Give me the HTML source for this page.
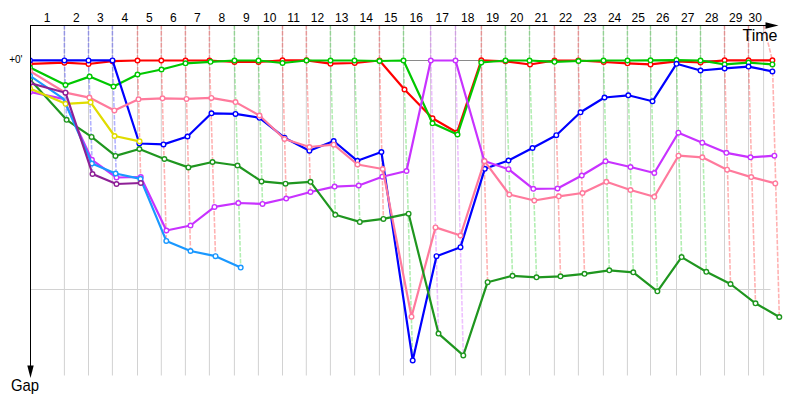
<!DOCTYPE html>
<html><head><meta charset="utf-8"><title>Gap chart</title>
<style>
html,body{margin:0;padding:0;background:#fff;}
body{width:800px;height:400px;overflow:hidden;position:relative;font-family:"Liberation Sans",sans-serif;}
svg{position:absolute;left:0;top:0;}
text{font-family:"Liberation Sans",sans-serif;fill:#000;}
</style></head><body>
<svg width="800" height="400" viewBox="0 0 800 400">
<path d="M64.4 25V375.5M88.5 25V375.5M112.4 25V375.5M137.5 25V375.5M161.3 25V375.5M185.4 25V375.5M209.4 25V375.5M234.4 25V375.5M258.4 25V375.5M282.5 25V375.5M306.3 25V375.5M330.4 25V375.5M354.6 25V375.5M379.4 25V375.5M403.5 25V375.5M430.6 25V375.5M455.5 25V375.5M481.4 25V375.5M505.4 25V375.5M529.5 25V375.5M554.4 25V375.5M578.4 25V375.5M603.4 25V375.5M627.4 25V375.5M650.5 25V375.5M676.5 25V375.5M700.5 25V375.5M724.5 25V375.5M748.5 25V375.5M763.6 25V375.5" stroke="#d2d2d2" stroke-width="1" fill="none"/>
<path d="M30 289.5H770.5" stroke="#d2d2d2" stroke-width="1" fill="none"/>
<path d="M30 60.5H764" stroke="#8a8a8a" stroke-width="1" fill="none"/>
<path d="M64.4 25L64.4 60.4L66.6 119.8" stroke="#0000ff" stroke-opacity="0.3" stroke-width="1.6" stroke-dasharray="4.5 1.5" fill="none"/>
<path d="M88.5 25L88.5 60.4L92.5 174" stroke="#0000ff" stroke-opacity="0.3" stroke-width="1.6" stroke-dasharray="4.5 1.5" fill="none"/>
<path d="M112.4 25L112.5 60.4L116.5 184" stroke="#0000ff" stroke-opacity="0.3" stroke-width="1.6" stroke-dasharray="4.5 1.5" fill="none"/>
<path d="M137.5 25L137.5 60.5L140.8 183" stroke="#ff0000" stroke-opacity="0.3" stroke-width="1.6" stroke-dasharray="4.5 1.5" fill="none"/>
<path d="M161.3 25L161.3 60.5L166.3 240.9" stroke="#ff0000" stroke-opacity="0.3" stroke-width="1.6" stroke-dasharray="4.5 1.5" fill="none"/>
<path d="M185.4 25L185.5 60.5L190.5 251" stroke="#ff0000" stroke-opacity="0.3" stroke-width="1.6" stroke-dasharray="4.5 1.5" fill="none"/>
<path d="M209.4 25L209.5 60.5L215.5 256.2" stroke="#ff0000" stroke-opacity="0.3" stroke-width="1.6" stroke-dasharray="4.5 1.5" fill="none"/>
<path d="M234.4 25L234.5 60.5L240.7 267.6" stroke="#00c800" stroke-opacity="0.3" stroke-width="1.6" stroke-dasharray="4.5 1.5" fill="none"/>
<path d="M258.4 25L258.5 60.5L262.5 203.9" stroke="#00c800" stroke-opacity="0.3" stroke-width="1.6" stroke-dasharray="4.5 1.5" fill="none"/>
<path d="M282.5 25L282.5 60.3L286.2 198.5" stroke="#ff0000" stroke-opacity="0.3" stroke-width="1.6" stroke-dasharray="4.5 1.5" fill="none"/>
<path d="M306.3 25L306.5 60.3L310.5 192" stroke="#ff0000" stroke-opacity="0.3" stroke-width="1.6" stroke-dasharray="4.5 1.5" fill="none"/>
<path d="M330.4 25L330.5 60.5L335.3 214.8" stroke="#00c800" stroke-opacity="0.3" stroke-width="1.6" stroke-dasharray="4.5 1.5" fill="none"/>
<path d="M354.6 25L354.5 60.5L359.8 221.9" stroke="#00c800" stroke-opacity="0.3" stroke-width="1.6" stroke-dasharray="4.5 1.5" fill="none"/>
<path d="M379.4 25L379.5 60.5L383.4 218.9" stroke="#ff0000" stroke-opacity="0.3" stroke-width="1.6" stroke-dasharray="4.5 1.5" fill="none"/>
<path d="M403.5 25L403.5 60.5L412.7 360.4" stroke="#00c800" stroke-opacity="0.3" stroke-width="1.6" stroke-dasharray="4.5 1.5" fill="none"/>
<path d="M430.6 25L430.8 60.5L438.5 333.6" stroke="#c832ff" stroke-opacity="0.3" stroke-width="1.6" stroke-dasharray="4.5 1.5" fill="none"/>
<path d="M455.5 25L455.5 60.5L463.3 355.4" stroke="#c832ff" stroke-opacity="0.3" stroke-width="1.6" stroke-dasharray="4.5 1.5" fill="none"/>
<path d="M481.4 25L481.3 60.3L487.6 282.2" stroke="#ff0000" stroke-opacity="0.3" stroke-width="1.6" stroke-dasharray="4.5 1.5" fill="none"/>
<path d="M505.4 25L505.5 60.5L512.5 275.8" stroke="#00c800" stroke-opacity="0.3" stroke-width="1.6" stroke-dasharray="4.5 1.5" fill="none"/>
<path d="M529.5 25L529.5 60.5L536.5 277.3" stroke="#00c800" stroke-opacity="0.3" stroke-width="1.6" stroke-dasharray="4.5 1.5" fill="none"/>
<path d="M554.4 25L554.5 60.5L560.5 276.3" stroke="#ff0000" stroke-opacity="0.3" stroke-width="1.6" stroke-dasharray="4.5 1.5" fill="none"/>
<path d="M578.4 25L578.3 60.5L584.5 273.8" stroke="#ff0000" stroke-opacity="0.3" stroke-width="1.6" stroke-dasharray="4.5 1.5" fill="none"/>
<path d="M603.4 25L603.5 60.5L609.3 270.3" stroke="#00c800" stroke-opacity="0.3" stroke-width="1.6" stroke-dasharray="4.5 1.5" fill="none"/>
<path d="M627.4 25L627.5 60.5L633.3 272.3" stroke="#00c800" stroke-opacity="0.3" stroke-width="1.6" stroke-dasharray="4.5 1.5" fill="none"/>
<path d="M650.5 25L650.5 60.3L657.4 291.3" stroke="#00c800" stroke-opacity="0.3" stroke-width="1.6" stroke-dasharray="4.5 1.5" fill="none"/>
<path d="M676.5 25L676.5 60.1L681.6 257.1" stroke="#00c800" stroke-opacity="0.3" stroke-width="1.6" stroke-dasharray="4.5 1.5" fill="none"/>
<path d="M700.5 25L700.5 60.5L706.3 271.8" stroke="#00c800" stroke-opacity="0.3" stroke-width="1.6" stroke-dasharray="4.5 1.5" fill="none"/>
<path d="M724.5 25L724.6 60.3L730.5 284" stroke="#ff0000" stroke-opacity="0.3" stroke-width="1.6" stroke-dasharray="4.5 1.5" fill="none"/>
<path d="M748.5 25L748.5 60.3L755.5 303.3" stroke="#ff0000" stroke-opacity="0.3" stroke-width="1.6" stroke-dasharray="4.5 1.5" fill="none"/>
<path d="M763.6 25L772.4 60.3L779.3 317" stroke="#ff0000" stroke-opacity="0.3" stroke-width="1.6" stroke-dasharray="4.5 1.5" fill="none"/>
<path d="M30.5 25V366M30 25.5H766" stroke="#000" stroke-width="1" fill="none"/>
<path d="M27.3 365.5L33.7 365.5L30.5 378Z" fill="#000"/>
<path d="M765.5 22.3L765.5 28.7L778.5 25.5Z" fill="#000"/>
<defs><clipPath id="cp"><rect x="31" y="0" width="769" height="400"/></clipPath></defs>
<g clip-path="url(#cp)">
<path d="M30 64L64.4 62.7L88.5 64L112.5 61.2L137.5 60.5L161.3 60.5L185.5 60.5L209.5 60.5L234.5 62L258.5 62L282.5 60.3L306.5 60.3L330.5 63.7L354.7 63L379.5 60.5L404.5 89.5L432.5 118.3L457 132.5L481.3 60.3L505.5 61.3L530 64.5L554.5 60.5L578.3 60.5L603.7 62L627.5 63.3L650.5 64.4L676.5 61.3L700.5 62.5L724.6 60.3L748.5 60.3L772.4 60.3" stroke="#ff0000" stroke-width="2.2" fill="none" stroke-linejoin="round" stroke-linecap="round"/>
<g fill="#fff" stroke="#ff0000" stroke-width="1.4"><circle cx="30" cy="64" r="2.3"/><circle cx="64.4" cy="62.7" r="2.3"/><circle cx="88.5" cy="64" r="2.3"/><circle cx="112.5" cy="61.2" r="2.3"/><circle cx="137.5" cy="60.5" r="2.3"/><circle cx="161.3" cy="60.5" r="2.3"/><circle cx="185.5" cy="60.5" r="2.3"/><circle cx="209.5" cy="60.5" r="2.3"/><circle cx="234.5" cy="62" r="2.3"/><circle cx="258.5" cy="62" r="2.3"/><circle cx="282.5" cy="60.3" r="2.3"/><circle cx="306.5" cy="60.3" r="2.3"/><circle cx="330.5" cy="63.7" r="2.3"/><circle cx="354.7" cy="63" r="2.3"/><circle cx="379.5" cy="60.5" r="2.3"/><circle cx="404.5" cy="89.5" r="2.3"/><circle cx="432.5" cy="118.3" r="2.3"/><circle cx="457" cy="132.5" r="2.3"/><circle cx="481.3" cy="60.3" r="2.3"/><circle cx="505.5" cy="61.3" r="2.3"/><circle cx="530" cy="64.5" r="2.3"/><circle cx="554.5" cy="60.5" r="2.3"/><circle cx="578.3" cy="60.5" r="2.3"/><circle cx="603.7" cy="62" r="2.3"/><circle cx="627.5" cy="63.3" r="2.3"/><circle cx="650.5" cy="64.4" r="2.3"/><circle cx="676.5" cy="61.3" r="2.3"/><circle cx="700.5" cy="62.5" r="2.3"/><circle cx="724.6" cy="60.3" r="2.3"/><circle cx="748.5" cy="60.3" r="2.3"/><circle cx="772.4" cy="60.3" r="2.3"/></g>
<path d="M30 67.5L65.5 85L89.6 76.6L113.5 86.5L137.5 74.5L161.5 69.5L185.5 63.3L210.5 61.8L234.5 60.5L258.5 60.5L282.5 63L306.5 60.5L330.5 60.5L354.5 60.5L379.5 61L403.5 60.5L432.5 123.3L457.5 134.5L481.3 62.5L505.5 60.5L529.5 60.5L554.5 61.8L578.5 61L603.5 60.5L627.5 60.5L650.5 60.3L676.5 60.1L700.5 60.5L724.6 64.4L748.5 62.6L772.4 64.4" stroke="#00c800" stroke-width="2.2" fill="none" stroke-linejoin="round" stroke-linecap="round"/>
<g fill="#fff" stroke="#00c800" stroke-width="1.4"><circle cx="30" cy="67.5" r="2.3"/><circle cx="65.5" cy="85" r="2.3"/><circle cx="89.6" cy="76.6" r="2.3"/><circle cx="113.5" cy="86.5" r="2.3"/><circle cx="137.5" cy="74.5" r="2.3"/><circle cx="161.5" cy="69.5" r="2.3"/><circle cx="185.5" cy="63.3" r="2.3"/><circle cx="210.5" cy="61.8" r="2.3"/><circle cx="234.5" cy="60.5" r="2.3"/><circle cx="258.5" cy="60.5" r="2.3"/><circle cx="282.5" cy="63" r="2.3"/><circle cx="306.5" cy="60.5" r="2.3"/><circle cx="330.5" cy="60.5" r="2.3"/><circle cx="354.5" cy="60.5" r="2.3"/><circle cx="379.5" cy="61" r="2.3"/><circle cx="403.5" cy="60.5" r="2.3"/><circle cx="432.5" cy="123.3" r="2.3"/><circle cx="457.5" cy="134.5" r="2.3"/><circle cx="481.3" cy="62.5" r="2.3"/><circle cx="505.5" cy="60.5" r="2.3"/><circle cx="529.5" cy="60.5" r="2.3"/><circle cx="554.5" cy="61.8" r="2.3"/><circle cx="578.5" cy="61" r="2.3"/><circle cx="603.5" cy="60.5" r="2.3"/><circle cx="627.5" cy="60.5" r="2.3"/><circle cx="650.5" cy="60.3" r="2.3"/><circle cx="676.5" cy="60.1" r="2.3"/><circle cx="700.5" cy="60.5" r="2.3"/><circle cx="724.6" cy="64.4" r="2.3"/><circle cx="748.5" cy="62.6" r="2.3"/><circle cx="772.4" cy="64.4" r="2.3"/></g>
<path d="M30 60.4L64.4 60.4L88.5 60.4L112.5 60.4L139.4 143.5L163.5 144.4L187.5 136.5L211.5 113.3L235.5 113.9L259.5 117.8L284.5 137.7L309.4 150.7L333.7 141L357.4 160.8L381.4 152L412.7 360.4L436.5 256.2L460.5 247.2L484.8 168.8L508.5 160.5L532.5 148L556.3 135.2L580.5 112.3L604.5 97.5L628.3 95.3L652.5 101.3L676.5 63.8L700.5 70.5L724.6 68.4L748.5 66.6L772.4 71.4" stroke="#0000ff" stroke-width="2.2" fill="none" stroke-linejoin="round" stroke-linecap="round"/>
<g fill="#fff" stroke="#0000ff" stroke-width="1.4"><circle cx="30" cy="60.4" r="2.3"/><circle cx="64.4" cy="60.4" r="2.3"/><circle cx="88.5" cy="60.4" r="2.3"/><circle cx="112.5" cy="60.4" r="2.3"/><circle cx="139.4" cy="143.5" r="2.3"/><circle cx="163.5" cy="144.4" r="2.3"/><circle cx="187.5" cy="136.5" r="2.3"/><circle cx="211.5" cy="113.3" r="2.3"/><circle cx="235.5" cy="113.9" r="2.3"/><circle cx="259.5" cy="117.8" r="2.3"/><circle cx="284.5" cy="137.7" r="2.3"/><circle cx="309.4" cy="150.7" r="2.3"/><circle cx="333.7" cy="141" r="2.3"/><circle cx="357.4" cy="160.8" r="2.3"/><circle cx="381.4" cy="152" r="2.3"/><circle cx="412.7" cy="360.4" r="2.3"/><circle cx="436.5" cy="256.2" r="2.3"/><circle cx="460.5" cy="247.2" r="2.3"/><circle cx="484.8" cy="168.8" r="2.3"/><circle cx="508.5" cy="160.5" r="2.3"/><circle cx="532.5" cy="148" r="2.3"/><circle cx="556.3" cy="135.2" r="2.3"/><circle cx="580.5" cy="112.3" r="2.3"/><circle cx="604.5" cy="97.5" r="2.3"/><circle cx="628.3" cy="95.3" r="2.3"/><circle cx="652.5" cy="101.3" r="2.3"/><circle cx="676.5" cy="63.8" r="2.3"/><circle cx="700.5" cy="70.5" r="2.3"/><circle cx="724.6" cy="68.4" r="2.3"/><circle cx="748.5" cy="66.6" r="2.3"/><circle cx="772.4" cy="71.4" r="2.3"/></g>
<path d="M30 92L63.3 98.8L91.9 159.8L116.5 177.5L140.8 177L166.4 230.5L190.5 225.5L214.5 206.9L238.3 203L262.5 203.9L286.2 198.5L310.5 192L334.6 186.6L358.7 185.5L382.3 176.7L406.5 171L430.8 60.5L455.5 60.5L484.3 161L508.5 169.2L533.3 188.8L557.5 188.5L581.8 175.5L605.5 161.3L630.5 167L654.3 173L678.4 132.7L702.3 142.7L726.4 152.8L750.5 157.3L774.4 155.7" stroke="#c832ff" stroke-width="2.2" fill="none" stroke-linejoin="round" stroke-linecap="round"/>
<g fill="#fff" stroke="#c832ff" stroke-width="1.4"><circle cx="30" cy="92" r="2.3"/><circle cx="91.9" cy="159.8" r="2.3"/><circle cx="116.5" cy="177.5" r="2.3"/><circle cx="140.8" cy="177" r="2.3"/><circle cx="166.4" cy="230.5" r="2.3"/><circle cx="190.5" cy="225.5" r="2.3"/><circle cx="214.5" cy="206.9" r="2.3"/><circle cx="238.3" cy="203" r="2.3"/><circle cx="262.5" cy="203.9" r="2.3"/><circle cx="286.2" cy="198.5" r="2.3"/><circle cx="310.5" cy="192" r="2.3"/><circle cx="334.6" cy="186.6" r="2.3"/><circle cx="358.7" cy="185.5" r="2.3"/><circle cx="382.3" cy="176.7" r="2.3"/><circle cx="406.5" cy="171" r="2.3"/><circle cx="430.8" cy="60.5" r="2.3"/><circle cx="455.5" cy="60.5" r="2.3"/><circle cx="484.3" cy="161" r="2.3"/><circle cx="508.5" cy="169.2" r="2.3"/><circle cx="533.3" cy="188.8" r="2.3"/><circle cx="557.5" cy="188.5" r="2.3"/><circle cx="581.8" cy="175.5" r="2.3"/><circle cx="605.5" cy="161.3" r="2.3"/><circle cx="630.5" cy="167" r="2.3"/><circle cx="654.3" cy="173" r="2.3"/><circle cx="678.4" cy="132.7" r="2.3"/><circle cx="702.3" cy="142.7" r="2.3"/><circle cx="726.4" cy="152.8" r="2.3"/><circle cx="750.5" cy="157.3" r="2.3"/><circle cx="774.4" cy="155.7" r="2.3"/></g>
<path d="M30 71.2L65.5 92.7L89.4 97.6L114.4 110.4L138.5 99.3L162.5 98.3L186.5 98.9L211.4 97.9L235.5 102.1L259.5 115.5L284.5 139L309.4 147L333.7 144.7L357.5 164.5L382.7 169L411.5 316.7L435.5 227.4L460.5 235.5L484.5 161.2L509.3 194.5L534.3 200.5L558.8 196.3L582.5 193L606.3 181.8L630.5 190L654.3 196.8L678.5 155.7L702.3 157.3L727.1 169.7L751.2 177.1L775.3 183.4" stroke="#ff7a9c" stroke-width="2.2" fill="none" stroke-linejoin="round" stroke-linecap="round"/>
<g fill="#fff" stroke="#ff7a9c" stroke-width="1.4"><circle cx="30" cy="71.2" r="2.3"/><circle cx="65.5" cy="92.7" r="2.3"/><circle cx="89.4" cy="97.6" r="2.3"/><circle cx="114.4" cy="110.4" r="2.3"/><circle cx="138.5" cy="99.3" r="2.3"/><circle cx="162.5" cy="98.3" r="2.3"/><circle cx="186.5" cy="98.9" r="2.3"/><circle cx="211.4" cy="97.9" r="2.3"/><circle cx="235.5" cy="102.1" r="2.3"/><circle cx="259.5" cy="115.5" r="2.3"/><circle cx="284.5" cy="139" r="2.3"/><circle cx="309.4" cy="147" r="2.3"/><circle cx="333.7" cy="144.7" r="2.3"/><circle cx="357.5" cy="164.5" r="2.3"/><circle cx="382.7" cy="169" r="2.3"/><circle cx="411.5" cy="316.7" r="2.3"/><circle cx="435.5" cy="227.4" r="2.3"/><circle cx="460.5" cy="235.5" r="2.3"/><circle cx="484.5" cy="161.2" r="2.3"/><circle cx="509.3" cy="194.5" r="2.3"/><circle cx="534.3" cy="200.5" r="2.3"/><circle cx="558.8" cy="196.3" r="2.3"/><circle cx="582.5" cy="193" r="2.3"/><circle cx="606.3" cy="181.8" r="2.3"/><circle cx="630.5" cy="190" r="2.3"/><circle cx="654.3" cy="196.8" r="2.3"/><circle cx="678.5" cy="155.7" r="2.3"/><circle cx="702.3" cy="157.3" r="2.3"/><circle cx="727.1" cy="169.7" r="2.3"/><circle cx="751.2" cy="177.1" r="2.3"/><circle cx="775.3" cy="183.4" r="2.3"/></g>
<path d="M30 79.5L66.6 119.8L91.6 136.9L115.5 155.9L139.4 149L164.4 159L188.4 167.4L212.5 162L237.5 165.5L261.5 181.4L285.5 183.7L310.5 181.8L335.3 214.8L359.8 221.9L383.4 218.9L408.6 213.7L438.5 333.6L463.3 355.4L487.6 282.2L512.5 275.8L536.5 277.3L560.5 276.3L584.5 273.8L609.3 270.3L633.3 272.3L657.4 291.3L681.6 257.1L706.3 271.8L730.5 284L755.5 303.3L779.3 317" stroke="#1f961f" stroke-width="2.2" fill="none" stroke-linejoin="round" stroke-linecap="round"/>
<g fill="#fff" stroke="#1f961f" stroke-width="1.4"><circle cx="30" cy="79.5" r="2.3"/><circle cx="66.6" cy="119.8" r="2.3"/><circle cx="91.6" cy="136.9" r="2.3"/><circle cx="115.5" cy="155.9" r="2.3"/><circle cx="139.4" cy="149" r="2.3"/><circle cx="164.4" cy="159" r="2.3"/><circle cx="188.4" cy="167.4" r="2.3"/><circle cx="212.5" cy="162" r="2.3"/><circle cx="237.5" cy="165.5" r="2.3"/><circle cx="261.5" cy="181.4" r="2.3"/><circle cx="285.5" cy="183.7" r="2.3"/><circle cx="310.5" cy="181.8" r="2.3"/><circle cx="335.3" cy="214.8" r="2.3"/><circle cx="359.8" cy="221.9" r="2.3"/><circle cx="383.4" cy="218.9" r="2.3"/><circle cx="408.6" cy="213.7" r="2.3"/><circle cx="438.5" cy="333.6" r="2.3"/><circle cx="463.3" cy="355.4" r="2.3"/><circle cx="487.6" cy="282.2" r="2.3"/><circle cx="512.5" cy="275.8" r="2.3"/><circle cx="536.5" cy="277.3" r="2.3"/><circle cx="560.5" cy="276.3" r="2.3"/><circle cx="584.5" cy="273.8" r="2.3"/><circle cx="609.3" cy="270.3" r="2.3"/><circle cx="633.3" cy="272.3" r="2.3"/><circle cx="657.4" cy="291.3" r="2.3"/><circle cx="681.6" cy="257.1" r="2.3"/><circle cx="706.3" cy="271.8" r="2.3"/><circle cx="730.5" cy="284" r="2.3"/><circle cx="755.5" cy="303.3" r="2.3"/><circle cx="779.3" cy="317" r="2.3"/></g>
<path d="M30 75.8L63.3 98.6L91.9 163.5L115.6 173.5L140.5 178.8L166.3 240.9L190.5 251L215.5 256.2L240.7 267.6" stroke="#1a98ff" stroke-width="2.2" fill="none" stroke-linejoin="round" stroke-linecap="round"/>
<g fill="#fff" stroke="#1a98ff" stroke-width="1.4"><circle cx="30" cy="75.8" r="2.3"/><circle cx="91.9" cy="163.5" r="2.3"/><circle cx="115.6" cy="173.5" r="2.3"/><circle cx="140.5" cy="178.8" r="2.3"/><circle cx="166.3" cy="240.9" r="2.3"/><circle cx="190.5" cy="251" r="2.3"/><circle cx="215.5" cy="256.2" r="2.3"/><circle cx="240.7" cy="267.6" r="2.3"/></g>
<path d="M30 88.5L65.6 103.8L90.6 102.3L114.6 136L139.6 141.3" stroke="#e0dc00" stroke-width="2.2" fill="none" stroke-linejoin="round" stroke-linecap="round"/>
<g fill="#fff" stroke="#e0dc00" stroke-width="1.4"><circle cx="30" cy="88.5" r="2.3"/><circle cx="65.6" cy="103.8" r="2.3"/><circle cx="90.6" cy="102.3" r="2.3"/><circle cx="114.6" cy="136" r="2.3"/><circle cx="139.6" cy="141.3" r="2.3"/></g>
<path d="M30 83L65.5 92.7L92.5 174L116.5 184L140.8 183" stroke="#8e2096" stroke-width="2.2" fill="none" stroke-linejoin="round" stroke-linecap="round"/>
<g fill="#fff" stroke="#8e2096" stroke-width="1.4"><circle cx="30" cy="83" r="2.3"/><circle cx="65.5" cy="92.7" r="2.3"/><circle cx="92.5" cy="174" r="2.3"/><circle cx="116.5" cy="184" r="2.3"/><circle cx="140.8" cy="183" r="2.3"/></g>
</g>
<g font-size="12"><text x="47.2" y="22" text-anchor="middle">1</text><text x="76.45" y="22" text-anchor="middle">2</text><text x="100.45" y="22" text-anchor="middle">3</text><text x="124.95" y="22" text-anchor="middle">4</text><text x="149.4" y="22" text-anchor="middle">5</text><text x="173.35" y="22" text-anchor="middle">6</text><text x="197.4" y="22" text-anchor="middle">7</text><text x="221.9" y="22" text-anchor="middle">8</text><text x="246.4" y="22" text-anchor="middle">9</text><text x="269.65" y="22" text-anchor="middle">10</text><text x="293.6" y="22" text-anchor="middle">11</text><text x="317.55" y="22" text-anchor="middle">12</text><text x="341.7" y="22" text-anchor="middle">13</text><text x="366.2" y="22" text-anchor="middle">14</text><text x="390.65" y="22" text-anchor="middle">15</text><text x="416.25" y="22" text-anchor="middle">16</text><text x="442.25" y="22" text-anchor="middle">17</text><text x="467.65" y="22" text-anchor="middle">18</text><text x="492.6" y="22" text-anchor="middle">19</text><text x="516.65" y="22" text-anchor="middle">20</text><text x="541.15" y="22" text-anchor="middle">21</text><text x="565.6" y="22" text-anchor="middle">22</text><text x="590.1" y="22" text-anchor="middle">23</text><text x="614.6" y="22" text-anchor="middle">24</text><text x="638.15" y="22" text-anchor="middle">25</text><text x="662.7" y="22" text-anchor="middle">26</text><text x="687.7" y="22" text-anchor="middle">27</text><text x="711.7" y="22" text-anchor="middle">28</text><text x="735.7" y="22" text-anchor="middle">29</text><text x="755.25" y="22" text-anchor="middle">30</text></g>
<text x="22.5" y="63" font-size="10" text-anchor="end">+0'</text>
<text x="742.5" y="41" font-size="16">Time</text>
<text x="0" y="0" font-size="16" transform="translate(10.9 390.5) scale(0.93 1)">Gap</text>
</svg>
</body></html>
